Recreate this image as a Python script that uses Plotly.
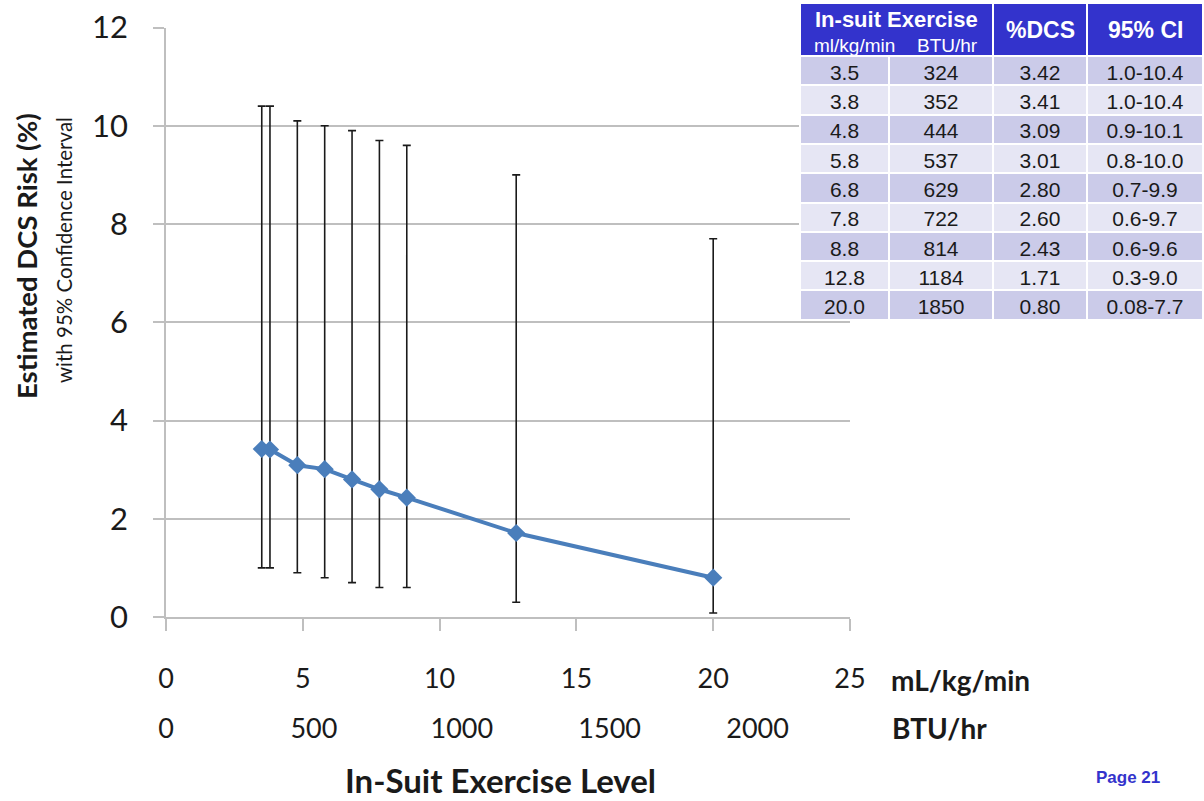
import plotly.graph_objects as go

# In-suit exercise levels and the estimated DCS risk with its 95% CI
exercise_ml_kg_min = [3.5, 3.8, 4.8, 5.8, 6.8, 7.8, 8.8, 12.8, 20.0]
exercise_btu_hr = [324, 352, 444, 537, 629, 722, 814, 1184, 1850]
dcs_pct = [3.42, 3.41, 3.09, 3.01, 2.80, 2.60, 2.43, 1.71, 0.80]
ci_low = [1.0, 1.0, 0.9, 0.8, 0.7, 0.6, 0.6, 0.3, 0.08]
ci_high = [10.4, 10.4, 10.1, 10.0, 9.9, 9.7, 9.6, 9.0, 7.7]

ml_ticks = [0, 5, 10, 15, 20, 25]
btu_ticks = [0, 500, 1000, 1500, 2000]
y_ticks = [0, 2, 4, 6, 8, 10, 12]

# page geometry (pixels) and helpers to convert to paper coordinates
W, H = 1204, 801
ML, MR, MT, MB = 166, 0, 0, 60
PW, PH = W - ML - MR, H - MT - MB


def px(x):
    return (x - ML) / PW


def py(y):
    return (H - MB - y) / PH


plot_left, plot_right = 166, 850
plot_top, plot_bottom = 27.5, 617

BLUE = "#4a7ebb"
GRID = "#bfbfbf"
HEADER = "#3333cc"
ROW_DARK = "#cbcbe9"
ROW_LIGHT = "#e6e6f4"
FONT = "Lato"
TFONT = "Liberation Sans"
INK = "#1a1a1a"

err_plus = [h - d for h, d in zip(ci_high, dcs_pct)]
err_minus = [d - l for d, l in zip(dcs_pct, ci_low)]
btu_per_unit = exercise_btu_hr[-1] / exercise_ml_kg_min[-1]

fig = go.Figure()

fig.add_trace(go.Scatter(
    x=exercise_ml_kg_min, y=dcs_pct,
    mode="lines+markers",
    line=dict(color=BLUE, width=4),
    marker=dict(symbol="diamond", size=14, color=BLUE),
    error_y=dict(type="data", symmetric=False, array=err_plus, arrayminus=err_minus,
                 color=INK, thickness=1.6, width=4),
    showlegend=False, hoverinfo="skip",
))

# same points on the BTU/hr scale (invisible; keeps the second scale tied to the data)
fig.add_trace(go.Scatter(
    x=exercise_btu_hr, y=dcs_pct, xaxis="x2", mode="markers",
    marker=dict(opacity=0), showlegend=False, hoverinfo="skip",
))

# summary table (header texts are placed as annotations so they sit vertically centred)
row_fill = [ROW_DARK if i % 2 == 0 else ROW_LIGHT for i in range(len(dcs_pct))]
fig.add_trace(go.Table(
    domain=dict(x=[px(800), px(1203)], y=[py(322), py(3)]),
    columnwidth=[89, 104, 94, 116],
    header=dict(
        values=["", "", "", ""],
        fill_color=HEADER, line=dict(color="white", width=2),
        font=dict(family=TFONT, size=23, color="white"),
        align="center", height=53,
    ),
    cells=dict(
        values=[
            [f"{v:.1f}" for v in exercise_ml_kg_min],
            [str(v) for v in exercise_btu_hr],
            [f"{v:.2f}" for v in dcs_pct],
            [f"{lo}-{hi}" for lo, hi in zip(ci_low, ci_high)],
        ],
        fill_color=[row_fill] * 4, line=dict(color="white", width=2),
        font=dict(family=TFONT, size=21, color=INK),
        align="center", height=29.3,
    ),
))

x_dom = [0, px(plot_right)]
y_dom = [py(plot_bottom), py(plot_top)]


def label(text, x, y, size, family=FONT, color=INK, angle=0):
    return dict(text=text, x=px(x), y=py(y), xref="paper", yref="paper",
                xanchor="center", yanchor="middle", showarrow=False, textangle=angle,
                borderpad=0, font=dict(family=family, size=size, color=color))


fig.update_layout(
    width=W, height=H,
    margin=dict(l=ML, r=MR, t=MT, b=MB, autoexpand=False),
    paper_bgcolor="white", plot_bgcolor="white",
    font=dict(family=FONT, color=INK),
    xaxis=dict(
        domain=x_dom, range=[0, 25], tickvals=ml_ticks,
        ticks="outside", ticklen=12, tickwidth=1.5, tickcolor=GRID,
        showline=True, linecolor=GRID, linewidth=1.5,
        showgrid=False, zeroline=False,
        tickfont=dict(family=FONT, size=27, color=INK),
        ticklabelstandoff=25,
    ),
    xaxis2=dict(
        overlaying="x", anchor="free", position=py(710), side="bottom",
        range=[0, 25 * btu_per_unit], tickvals=btu_ticks,
        ticks="", showline=False, showgrid=False, zeroline=False,
        tickfont=dict(family=FONT, size=27, color=INK),
    ),
    yaxis=dict(
        domain=y_dom, range=[0, 12], tickvals=y_ticks,
        ticks="outside", ticklen=11, tickwidth=1.5, tickcolor=GRID,
        showline=True, linecolor=GRID, linewidth=1.5,
        showgrid=True, gridcolor=GRID, gridwidth=1.5, zeroline=False,
        tickfont=dict(family=FONT, size=31, color=INK),
        ticklabelstandoff=19,
    ),
    shapes=[
        # merges the two exercise columns of the header into one cell
        dict(type="rect", xref="paper", yref="paper", layer="above",
             x0=px(801), x1=px(992), y0=py(55), y1=py(4),
             fillcolor=HEADER, line=dict(width=0)),
    ],
    annotations=[
        label("<b>In-Suit Exercise Level</b>", 500, 780, 33),
        label("<b>mL/kg/min</b>", 960, 680, 28),
        label("<b>BTU/hr</b>", 939, 728, 28),
        label("<b>Estimated DCS Risk (%)</b>", 26, 256, 27.5, angle=-90),
        label("with 95% Confidence Interval", 64, 250, 20.5, angle=-90),
        label("<b>In-suit Exercise</b>", 896, 19, 22, TFONT, "white"),
        label("ml/kg/min", 854, 45, 19, TFONT, "white"),
        label("BTU/hr", 947, 45, 19, TFONT, "white"),
        label("<b>%DCS</b>", 1040, 30, 23, TFONT, "white"),
        label("<b>95% CI</b>", 1145, 30, 23, TFONT, "white"),
        label("<b>Page 21</b>", 1128, 778, 17, TFONT, HEADER),
    ],
)

fig.write_html("out.html")
